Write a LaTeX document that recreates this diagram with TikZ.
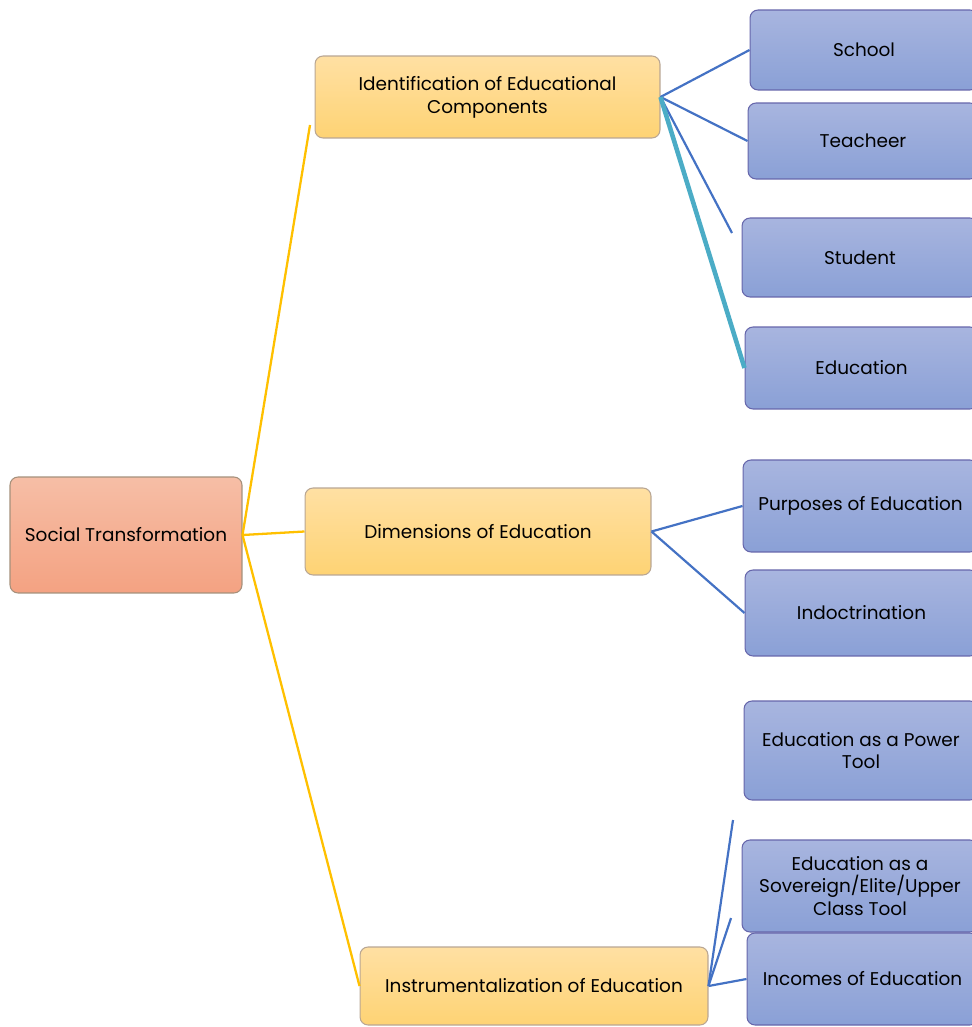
\documentclass[tikz,border=0pt]{standalone}
\usepackage{fontspec}
\setmainfont{Poppins}
\usepackage{tikz}
\usetikzlibrary{positioning}
\definecolor{rootTop}{HTML}{F6BEA6}
\definecolor{rootBot}{HTML}{F4A282}
\definecolor{topicTop}{HTML}{FFE0A3}
\definecolor{topicBot}{HTML}{FED374}
\definecolor{leafTop}{HTML}{A8B5DF}
\definecolor{leafBot}{HTML}{8AA0D6}
\definecolor{rootline}{HTML}{FFC000}
\definecolor{leafline}{HTML}{4472C4}
\definecolor{tealline}{HTML}{4BACC6}
\tikzstyle{rootlink} = [draw=rootline,line width=1.3pt]
\tikzstyle{leaflink} = [draw=leafline,line width=1.25pt]
\tikzstyle{heavylink} = [draw=tealline,line width=2.6pt]

\begin{document}
\begin{tikzpicture}[x=0.02cm,y=-0.02cm,
      box/.style={rounded corners=0.16cm,align=center,inner sep=2pt,
        font=\fontsize{10.5}{13}\selectfont,line width=0.6pt},
      root node/.style={box,draw=black!45!brown!60,top color=rootTop,bottom color=rootBot},
      topic node/.style={box,draw=black!40!brown!50,top color=topicTop,bottom color=topicBot},
      leaf node/.style={box,draw=black!55!blue!60,top color=leafTop,bottom color=leafBot}]
  \useasboundingbox (0,0) rectangle (972,1027);

  \node[root node,minimum width=4.64cm,minimum height=2.32cm] (ST) at (126,535) {Social Transformation};

  \node[topic node,minimum width=6.9cm,minimum height=1.64cm] (IDC) at (487.5,97) {Identification of Educational\\Components};
  \node[topic node,minimum width=6.92cm,minimum height=1.74cm] (DIM) at (478,531.5) {Dimensions of Education};
  \node[topic node,minimum width=6.96cm,minimum height=1.56cm] (INS) at (534,986) {Instrumentalization of Education};

  \node[leaf node,minimum width=4.56cm,minimum height=1.6cm] (L1) at (864,50) {School};
  \node[leaf node,minimum width=4.6cm,minimum height=1.52cm] (L2) at (863,141) {Teacheer};
  \node[leaf node,minimum width=4.72cm,minimum height=1.58cm] (L3) at (860,257.5) {Student};
  \node[leaf node,minimum width=4.66cm,minimum height=1.64cm] (L4) at (861.5,368) {Education};
  \node[leaf node,minimum width=4.7cm,minimum height=1.84cm] (L5) at (860.5,506) {Purposes of Education};
  \node[leaf node,minimum width=4.66cm,minimum height=1.72cm] (L6) at (861.5,613) {Indoctrination};
  \node[leaf node,minimum width=4.68cm,minimum height=1.98cm] (L7) at (861,750.5) {Education as a Power\\Tool};
  \node[leaf node,minimum width=4.72cm,minimum height=1.84cm] (L8) at (860,886) {Education as a\\Sovereign/Elite/Upper\\Class Tool};
  \node[leaf node,minimum width=4.62cm,minimum height=1.84cm] (L9) at (862.5,979) {Incomes of Education};

  % loose ends
  \coordinate (E1) at (310,125);
  \coordinate (E3) at (732,233);
  \coordinate (E7) at (733,820);
  \coordinate (E8) at (731,918);

  \path[rootlink] (ST.east) edge (E1) edge (DIM.west) edge (INS.west);
  \foreach \i in {1,2}{\path[leaflink] (IDC.east) edge (L\i.west);}
  \path[leaflink] (IDC.east) edge (E3);
  \path[heavylink] (IDC.east) edge (L4.west);
  \foreach \i in {5,6}{\path[leaflink] (DIM.east) edge (L\i.west);}
  \foreach \i in {7,8}{\path[leaflink] (INS.east) edge (E\i);}
  \path[leaflink] (INS.east) edge (L9.west);
\end{tikzpicture}
\end{document}
